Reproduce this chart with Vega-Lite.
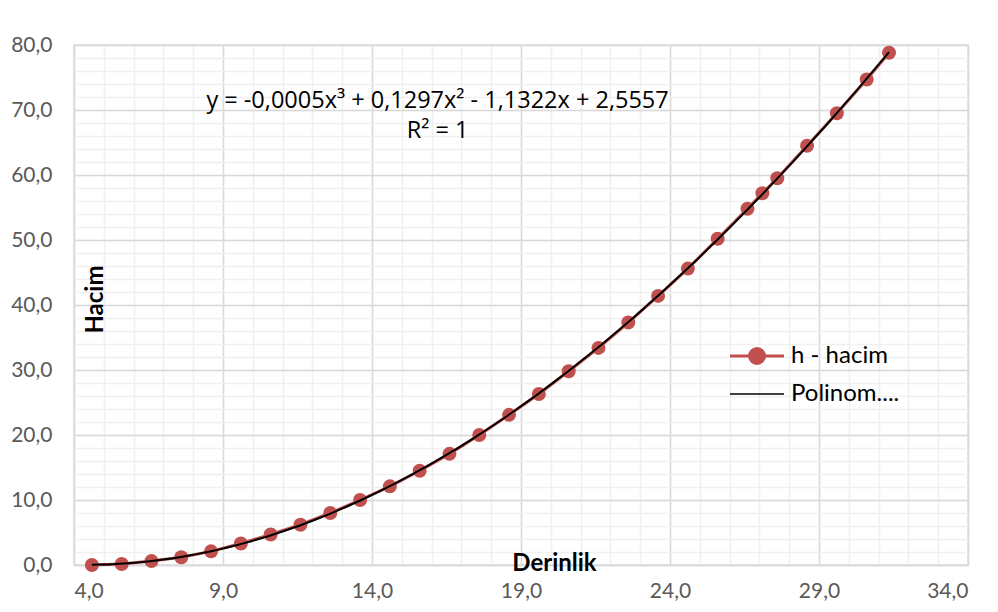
{
  "$schema": "https://vega.github.io/schema/vega-lite/v6.json",
  "width": 894,
  "height": 520,
  "autosize": "none",
  "padding": {"left": 74, "top": 45, "right": 30, "bottom": 47},
  "background": "white",
  "config": {
    "font": "Lato",
    "locale": {"number": {"decimal": ",", "thousands": ".", "grouping": [3], "currency": ["", " €"]}},
    "view": {"stroke": "#d9d9d9", "strokeWidth": 1.5}
  },
  "data": {
    "values": [
      {"derinlik": 4.6, "hacim": 0.0},
      {"derinlik": 5.6, "hacim": 0.15},
      {"derinlik": 6.6, "hacim": 0.6},
      {"derinlik": 7.6, "hacim": 1.2},
      {"derinlik": 8.6, "hacim": 2.1},
      {"derinlik": 9.6, "hacim": 3.3},
      {"derinlik": 10.6, "hacim": 4.7},
      {"derinlik": 11.6, "hacim": 6.2},
      {"derinlik": 12.6, "hacim": 8.0},
      {"derinlik": 13.6, "hacim": 10.0},
      {"derinlik": 14.6, "hacim": 12.1},
      {"derinlik": 15.6, "hacim": 14.5},
      {"derinlik": 16.6, "hacim": 17.1},
      {"derinlik": 17.6, "hacim": 20.0},
      {"derinlik": 18.6, "hacim": 23.1},
      {"derinlik": 19.6, "hacim": 26.3},
      {"derinlik": 20.6, "hacim": 29.8},
      {"derinlik": 21.6, "hacim": 33.4},
      {"derinlik": 22.6, "hacim": 37.3},
      {"derinlik": 23.6, "hacim": 41.4},
      {"derinlik": 24.6, "hacim": 45.6},
      {"derinlik": 25.6, "hacim": 50.2},
      {"derinlik": 26.6, "hacim": 54.8},
      {"derinlik": 27.1, "hacim": 57.2},
      {"derinlik": 27.6, "hacim": 59.5},
      {"derinlik": 28.6, "hacim": 64.5},
      {"derinlik": 29.6, "hacim": 69.5},
      {"derinlik": 30.6, "hacim": 74.7},
      {"derinlik": 31.35, "hacim": 78.8}
    ]
  },
  "resolve": {"axis": {"x": "independent", "y": "independent"}},
  "layer": [
    {
      "mark": {"type": "line", "strokeWidth": 3},
      "encoding": {
        "x": {
          "field": "derinlik", "type": "quantitative",
          "scale": {"domain": [4, 34], "nice": false, "zero": false},
          "axis": {"orient": "bottom", "values": [4,5,6,7,8,9,10,11,12,13,14,15,16,17,18,19,20,21,22,23,24,25,26,27,28,29,30,31,32,33,34], "labels": false, "ticks": false, "domain": false, "title": null, "grid": true, "gridColor": "#f0f0f0", "gridWidth": 1.5}
        },
        "y": {
          "field": "hacim", "type": "quantitative",
          "scale": {"domain": [0, 80], "nice": false},
          "axis": {"orient": "left", "values": [0,2,4,6,8,10,12,14,16,18,20,22,24,26,28,30,32,34,36,38,40,42,44,46,48,50,52,54,56,58,60,62,64,66,68,70,72,74,76,78,80], "labels": false, "ticks": false, "domain": false, "title": null, "grid": true, "gridColor": "#f0f0f0", "gridWidth": 1.5}
        },
        "color": {
          "datum": "h - hacim",
          "scale": {"domain": ["h - hacim", "Polinom...."], "range": ["#c0504d", "#000000"]},
          "legend": {
            "title": null,
            "orient": "none",
            "legendX": 671,
            "legendY": 299,
            "padding": 0,
            "symbolSize": 400,
            "labelFontSize": 24,
            "labelColor": "#000000",
            "labelFont": "Lato",
            "labelOffset": 22,
            "rowPadding": 12,
            "encode": {
              "symbols": {
                "update": {
                  "shape": {"signal": "datum.value === 'h - hacim' ? 'M-2.7,0L2.7,0M-0.75,0A0.75,0.75,0,1,1,0.75,0A0.75,0.75,0,1,1,-0.75,0Z' : 'M-2.7,0L2.7,0'"},
                  "strokeWidth": {"signal": "datum.value === 'h - hacim' ? 3 : 1.5"},
                  "fill": {"signal": "datum.value === 'h - hacim' ? '#c0504d' : 'transparent'"},
                  "stroke": {"signal": "datum.value === 'h - hacim' ? '#c0504d' : '#000000'"},
                  "opacity": {"value": 1},
                  "fillOpacity": {"value": 1},
                  "size": {"value": 400}
                }
              }
            }
          }
        }
      }
    },
    {
      "mark": {"type": "circle", "size": 195, "opacity": 1},
      "encoding": {
        "x": {
          "field": "derinlik", "type": "quantitative",
          "axis": {"orient": "bottom", "values": [4, 9, 14, 19, 24, 29, 34], "format": ".1f", "labelFontSize": 21, "labelColor": "#595959", "labelPadding": 15, "ticks": false, "domain": true, "domainColor": "#d9d9d9", "domainWidth": 1.5, "grid": true, "gridColor": "#d9d9d9", "gridWidth": 1.5,
            "title": "Derinlik", "titleFontSize": 24, "titleFontWeight": "bold", "titleColor": "#000000", "titleX": 480, "titleY": -2, "titleBaseline": "middle", "titleAlign": "center"}
        },
        "y": {
          "field": "hacim", "type": "quantitative",
          "axis": {"orient": "left", "values": [0, 10, 20, 30, 40, 50, 60, 70, 80], "format": ".1f", "labelFontSize": 21, "labelColor": "#595959", "labelPadding": 22, "ticks": false, "domain": false, "grid": true, "gridColor": "#d9d9d9", "gridWidth": 1.5,
            "title": "Hacim", "titleFontSize": 24, "titleFontWeight": "bold", "titleColor": "#000000", "titleX": 21, "titleY": 254, "titleAngle": 270, "titleBaseline": "middle", "titleAlign": "center"}
        },
        "color": {"datum": "h - hacim"}
      }
    },
    {
      "transform": [
        {"regression": "hacim", "on": "derinlik", "method": "poly", "order": 3, "extent": [4.6, 31.35]}
      ],
      "mark": {"type": "line", "strokeWidth": 2},
      "encoding": {
        "x": {"field": "derinlik", "type": "quantitative", "axis": null},
        "y": {"field": "hacim", "type": "quantitative", "axis": null},
        "color": {"datum": "Polinom...."}
      }
    },
    {
      "data": {"values": [{"label": "y = -0,0005x³ + 0,1297x² - 1,1322x + 2,5557"}]},
      "mark": {"type": "text", "font": "Open Sans", "fontSize": 23.5, "color": "#000000", "align": "center", "baseline": "middle"},
      "encoding": {
        "x": {"datum": 16.2, "type": "quantitative", "axis": null},
        "y": {"datum": 71.4, "type": "quantitative", "axis": null},
        "text": {"field": "label"}
      }
    },
    {
      "data": {"values": [{"label": "R² = 1"}]},
      "mark": {"type": "text", "font": "Open Sans", "fontSize": 23.5, "color": "#000000", "align": "center", "baseline": "middle"},
      "encoding": {
        "x": {"datum": 16.2, "type": "quantitative", "axis": null},
        "y": {"datum": 66.8, "type": "quantitative", "axis": null},
        "text": {"field": "label"}
      }
    }
  ]
}
